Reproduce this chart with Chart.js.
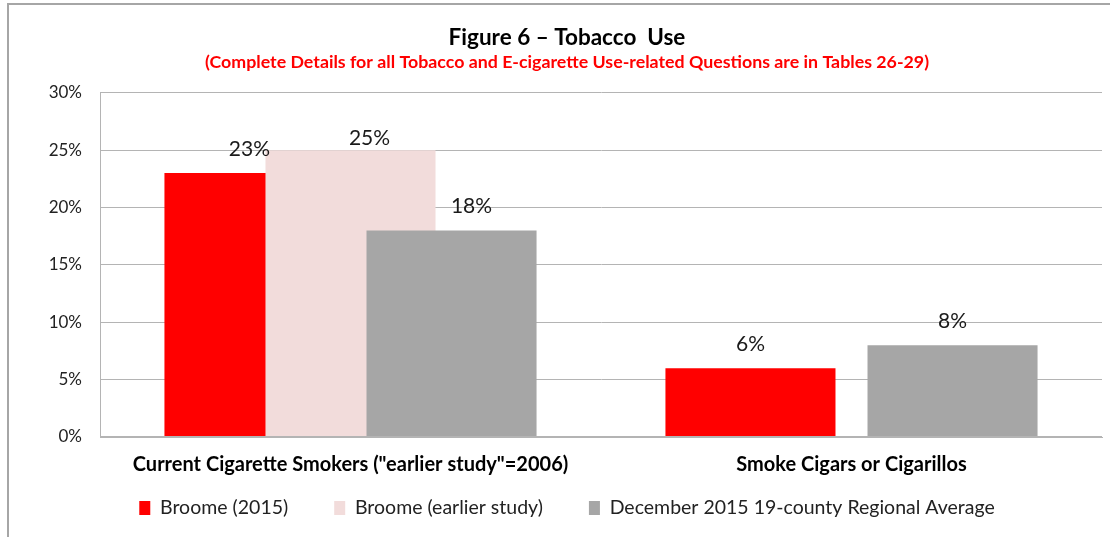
<!DOCTYPE html>
<html>
<head>
<meta charset="utf-8">
<script src="https://cdn.jsdelivr.net/npm/chart.js@4"></script>
<style>
  body { margin: 0; background: #fff; }
  #wrap { position: relative; width: 1110px; height: 537px; }
  #frame {
    position: absolute; left: 7px; top: 3px; right: 0; bottom: 0;
    border-top: 2px solid #a6a6a6; border-left: 2px solid #a6a6a6;
    pointer-events: none;
  }
  canvas { position: absolute; left: 0; top: 0; }
</style>
</head>
<body>
<div id="wrap">
  <canvas id="tobacco-bars" width="1110" height="537"></canvas>
  <div id="frame"></div>
</div>
<script>
// categories and series
const categories = ['Current Cigarette Smokers ("earlier study"=2006)', 'Smoke Cigars or Cigarillos'];
const seriesNames = ['Broome (2015)', 'Broome (earlier study)', 'December 2015 19-county Regional Average'];
const broome2015 = [23, 6];
const broomeEarlier = [25, null];
const regionalAverage = [18, 8];
const yTicks = [0, 5, 10, 15, 20, 25, 30];

const colors = ['#ff0000', '#f2dcdb', '#a6a6a6'];
const FONT = 'Lato, "Open Sans", sans-serif';
const gridColor = '#b4b4b4';

// hand-placed label nudges ("dataset:point" -> [dx, dy])
const labelNudge = { '1:0': [19, 12], '2:0': [20, 0] };

function drawValueLabels(chart) {
    const ctx = chart.ctx;
    ctx.save();
    ctx.font = '21px ' + FONT;
    ctx.fillStyle = '#1a1a1a';
    ctx.textAlign = 'center';
    ctx.textBaseline = 'middle';
    chart.getSortedVisibleDatasetMetas().forEach(meta => {
        const values = chart.data.datasets[meta.index].data;
        meta.data.forEach((bar, i) => {
            if (values[i] == null) return;
            const n = labelNudge[meta.index + ':' + i] || [0, 0];
            ctx.fillText(values[i] + '%', bar.x + n[0], bar.y - 24 + n[1]);
        });
    });
    ctx.restore();
}

// bars overlap like Excel: each later series is painted over the earlier one
const overlapBars = {
    id: 'overlapBars',
    beforeDatasetsDraw(chart) {
        const ctx = chart.ctx;
        const a = chart.chartArea;
        chart.getSortedVisibleDatasetMetas().forEach(meta => meta.controller.draw());
        // baseline on top of the bar feet
        const y0 = Math.round(chart.scales.y.getPixelForValue(0));
        ctx.save();
        ctx.fillStyle = gridColor;
        ctx.fillRect(a.left, y0 - 1, a.right - a.left, 2);
        ctx.restore();
        drawValueLabels(chart);
        return false;
    }
};

new Chart(document.getElementById('tobacco-bars'), {
    type: 'bar',
    data: {
        labels: categories,
        datasets: [broome2015, broomeEarlier, regionalAverage].map((values, i) => ({
            label: seriesNames[i],
            data: values,
            backgroundColor: colors[i],
            borderWidth: 0,
            inflateAmount: 0,
            categoryPercentage: 0.605,
            barPercentage: 1.683
        }))
    },
    options: {
        responsive: false,
        animation: false,
        layout: { padding: { left: 32, right: 8, top: 0, bottom: 9.25 } },
        scales: {
            x: {
                grid: { display: false, drawTicks: false },
                border: { display: true, color: gridColor },
                ticks: {
                    color: '#000',
                    padding: 16,
                    maxRotation: 0,
                    autoSkip: false,
                    font: { family: FONT, size: 20, weight: 'bold' }
                },
                afterFit(scale) {
                    // the legend's top padding is empty, so let the labels run into it
                    scale.height = 15.25;
                    scale._computeLabelArea = () => undefined;
                }
            },
            y: {
                min: yTicks[0],
                max: yTicks[yTicks.length - 1],
                afterBuildTicks(scale) { scale.ticks = yTicks.map(v => ({ value: v })); },
                grid: { color: gridColor, drawTicks: false },
                border: { display: true, color: gridColor },
                ticks: {
                    color: '#222',
                    padding: 18,
                    font: { family: FONT, size: 17 },
                    callback: v => v + '%'
                },
                afterFit(scale) { scale.width = 68; }
            }
        },
        plugins: {
            title: {
                display: true,
                text: 'Figure 6 – Tobacco  Use',
                color: '#000',
                font: { family: FONT, size: 22.5, weight: 'bold' },
                padding: { top: 24, bottom: 1 }
            },
            subtitle: {
                display: true,
                text: '(Complete Details for all Tobacco and E-cigarette Use-related Questions are in Tables 26-29)',
                color: '#ff0000',
                font: { family: FONT, size: 17.8, weight: 'bold' },
                padding: { top: 0, bottom: 19.4 }
            },
            legend: {
                position: 'bottom',
                labels: {
                    color: '#222',
                    boxWidth: 11,
                    boxHeight: 14,
                    padding: 46,
                    font: { family: FONT, size: 19.5 }
                }
            },
            tooltip: { enabled: false }
        }
    },
    plugins: [overlapBars]
});
</script>
</body>
</html>
